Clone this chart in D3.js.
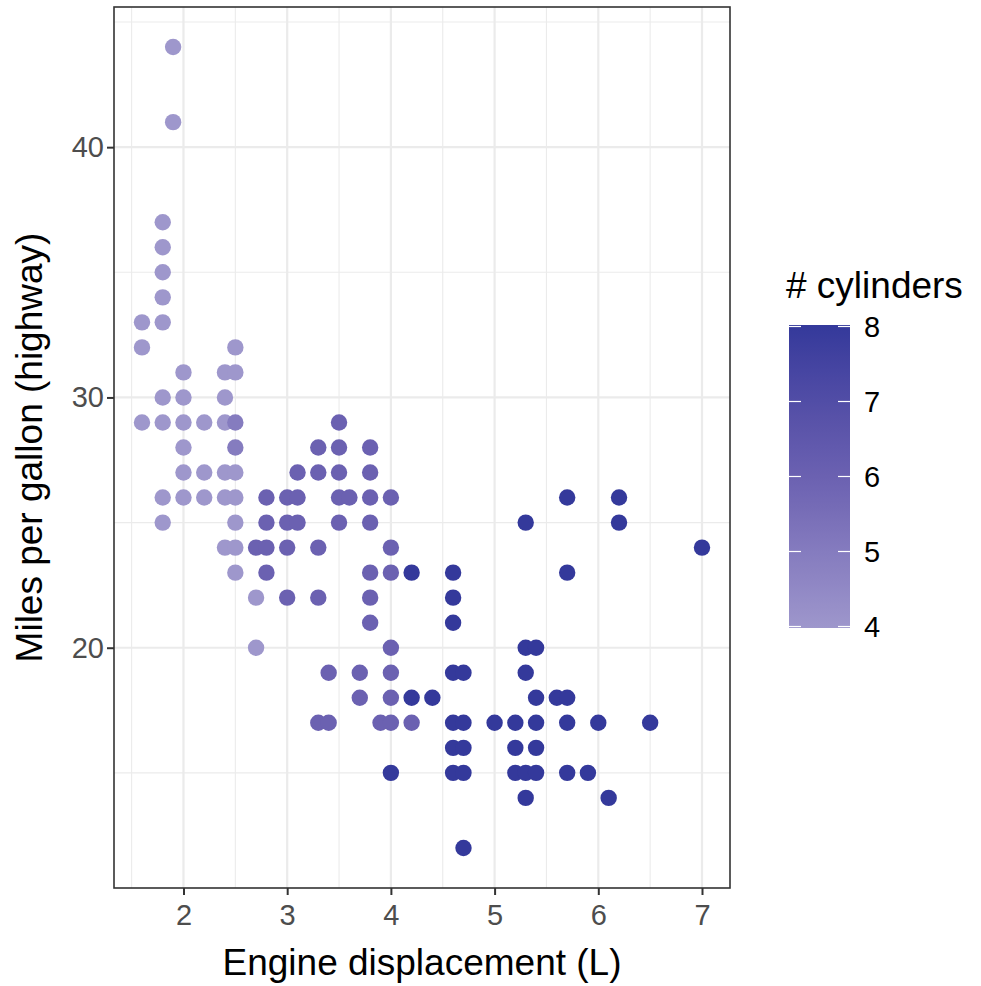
<!DOCTYPE html>
<html>
<head>
<meta charset="utf-8">
<script src="https://cdn.jsdelivr.net/npm/d3@7"></script>
<style>
  html, body { margin: 0; padding: 0; background: #fff; }
  svg { display: block; }
  text { font-family: "Liberation Sans", Arial, Helvetica, sans-serif; }
</style>
</head>
<body>
<svg id="chart" width="981" height="986"></svg>
<script>
// Engine displacement (L), highway mpg and cylinder count, one entry per distinct point
const displ = [
  1.6, 1.6, 1.6,
  1.8, 1.8, 1.8, 1.8, 1.8, 1.8, 1.8, 1.8, 1.8,
  1.9, 1.9,
  2.0, 2.0, 2.0, 2.0, 2.0, 2.0,
  2.2, 2.2, 2.2,
  2.4, 2.4, 2.4, 2.4, 2.4, 2.4,
  2.5, 2.5, 2.5, 2.5, 2.5, 2.5, 2.5,
  2.7, 2.7,
  2.5, 2.5,
  2.7,
  2.8, 2.8, 2.8, 2.8,
  3.0, 3.0, 3.0, 3.0,
  3.1, 3.1, 3.1,
  3.3, 3.3, 3.3, 3.3, 3.3,
  3.4, 3.4,
  3.5, 3.5, 3.5, 3.5, 3.5,
  3.6,
  3.7, 3.7,
  3.8, 3.8, 3.8, 3.8, 3.8, 3.8, 3.8,
  3.9,
  4.0, 4.0, 4.0, 4.0, 4.0, 4.0, 4.0,
  4.2,
  4.0,
  4.2, 4.2,
  4.4,
  4.6, 4.6, 4.6, 4.6, 4.6, 4.6, 4.6,
  4.7, 4.7, 4.7, 4.7, 4.7,
  5.0,
  5.2, 5.2, 5.2,
  5.3, 5.3, 5.3, 5.3, 5.3,
  5.4, 5.4, 5.4, 5.4, 5.4,
  5.6,
  5.7, 5.7, 5.7, 5.7, 5.7,
  5.9,
  6.0,
  6.1,
  6.2, 6.2,
  6.5,
  7.0
];
const hwy = [
  33, 32, 29,
  37, 36, 35, 34, 33, 30, 29, 26, 25,
  44, 41,
  31, 30, 29, 28, 27, 26,
  29, 27, 26,
  31, 30, 29, 27, 26, 24,
  32, 31, 27, 26, 25, 24, 23,
  22, 20,
  29, 28,
  24,
  26, 25, 24, 23,
  26, 25, 24, 22,
  27, 26, 25,
  28, 27, 24, 22, 17,
  19, 17,
  29, 28, 27, 26, 25,
  26,
  19, 18,
  28, 27, 26, 25, 23, 22, 21,
  17,
  26, 24, 23, 20, 19, 18, 17,
  17,
  15,
  23, 18,
  18,
  23, 22, 21, 19, 17, 16, 15,
  19, 17, 16, 15, 12,
  17,
  17, 16, 15,
  25, 20, 19, 15, 14,
  20, 18, 17, 16, 15,
  18,
  26, 23, 18, 17, 15,
  15,
  17,
  14,
  26, 25,
  17,
  24
];
const cyl = [
  4, 4, 4,
  4, 4, 4, 4, 4, 4, 4, 4, 4,
  4, 4,
  4, 4, 4, 4, 4, 4,
  4, 4, 4,
  4, 4, 4, 4, 4, 4,
  4, 4, 4, 4, 4, 4, 4,
  4, 4,
  5, 5,
  6,
  6, 6, 6, 6,
  6, 6, 6, 6,
  6, 6, 6,
  6, 6, 6, 6, 6,
  6, 6,
  6, 6, 6, 6, 6,
  6,
  6, 6,
  6, 6, 6, 6, 6, 6, 6,
  6,
  6, 6, 6, 6, 6, 6, 6,
  6,
  8,
  8, 8,
  8,
  8, 8, 8, 8, 8, 8, 8,
  8, 8, 8, 8, 8,
  8,
  8, 8, 8,
  8, 8, 8, 8, 8,
  8, 8, 8, 8, 8,
  8,
  8, 8, 8, 8, 8,
  8,
  8,
  8,
  8, 8,
  8,
  8
];

// Axis and legend tick values
const xTicks = [2, 3, 4, 5, 6, 7];
const xMinor = [1.5, 2.5, 3.5, 4.5, 5.5, 6.5];
const yTicks = [20, 30, 40];
const yMinor = [15, 25, 35, 45];
const legendTicks = [4, 5, 6, 7, 8];

const xTitle = "Engine displacement (L)";
const yTitle = "Miles per gallon (highway)";
const legendTitle = "# cylinders";

const points = displ.map((d, i) => ({ displ: d, hwy: hwy[i], cyl: cyl[i] }));

const svg = d3.select("#chart");
const panel = { left: 114, right: 730, top: 7, bottom: 888 };
const titleSize = "37px";
const tickSize = "29px";

// Continuous scales with the usual 5% padding around the data range
function padded(ext) {
  const pad = (ext[1] - ext[0]) * 0.05;
  return [ext[0] - pad, ext[1] + pad];
}
const x = d3.scaleLinear().domain(padded(d3.extent(displ))).range([panel.left, panel.right]);
const y = d3.scaleLinear().domain(padded(d3.extent(hwy))).range([panel.bottom, panel.top]);
const color = d3.scaleLinear()
  .domain([4, 6, 8])
  .range(["#9e97cc", "#6b61b1", "#34399b"])
  .interpolate(d3.interpolateLab);

// Panel grid
const grid = svg.append("g");
grid.selectAll("line.xminor").data(xMinor).join("line")
  .attr("x1", d => x(d)).attr("x2", d => x(d))
  .attr("y1", panel.top).attr("y2", panel.bottom)
  .attr("stroke", "#ebebeb").attr("stroke-width", 1.1);
grid.selectAll("line.yminor").data(yMinor).join("line")
  .attr("y1", d => y(d)).attr("y2", d => y(d))
  .attr("x1", panel.left).attr("x2", panel.right)
  .attr("stroke", "#ebebeb").attr("stroke-width", 1.1);
grid.selectAll("line.xmajor").data(xTicks).join("line")
  .attr("x1", d => x(d)).attr("x2", d => x(d))
  .attr("y1", panel.top).attr("y2", panel.bottom)
  .attr("stroke", "#ebebeb").attr("stroke-width", 2.2);
grid.selectAll("line.ymajor").data(yTicks).join("line")
  .attr("y1", d => y(d)).attr("y2", d => y(d))
  .attr("x1", panel.left).attr("x2", panel.right)
  .attr("stroke", "#ebebeb").attr("stroke-width", 2.2);

// Points
svg.append("g").selectAll("circle").data(points).join("circle")
  .attr("cx", d => x(d.displ))
  .attr("cy", d => y(d.hwy))
  .attr("r", 8.2)
  .attr("fill", d => color(d.cyl));

// Panel border
svg.append("rect")
  .attr("x", panel.left).attr("y", panel.top)
  .attr("width", panel.right - panel.left).attr("height", panel.bottom - panel.top)
  .attr("fill", "none").attr("stroke", "#333333").attr("stroke-width", 1.6);

// Axes
const xAxis = svg.append("g")
  .attr("transform", `translate(0,${panel.bottom})`)
  .call(d3.axisBottom(x).tickValues(xTicks).tickSize(7).tickPadding(9).tickFormat(d3.format("d")));
const yAxis = svg.append("g")
  .attr("transform", `translate(${panel.left},0)`)
  .call(d3.axisLeft(y).tickValues(yTicks).tickSize(7).tickPadding(3).tickFormat(d3.format("d")));
[xAxis, yAxis].forEach(ax => {
  ax.select(".domain").remove();
  ax.selectAll(".tick line").attr("stroke", "#333333").attr("stroke-width", 2);
  ax.selectAll(".tick text")
    .attr("fill", "#4d4d4d")
    .style("font-size", tickSize)
    .style("font-family", '"Liberation Sans", Arial, sans-serif');
});

// Axis titles
svg.append("text")
  .attr("x", (panel.left + panel.right) / 2).attr("y", 975)
  .attr("text-anchor", "middle")
  .style("font-size", titleSize)
  .attr("fill", "#000")
  .text(xTitle);
svg.append("text")
  .attr("transform", `translate(42,${(panel.top + panel.bottom) / 2}) rotate(-90)`)
  .attr("text-anchor", "middle")
  .style("font-size", titleSize)
  .attr("fill", "#000")
  .text(yTitle);

// Colour bar legend
const bar = { x: 789, w: 61, top: 325, bottom: 628 };
const ly = d3.scaleLinear().domain([4, 8]).range([bar.bottom - 1.5, bar.top + 1.5]);
const defs = svg.append("defs");
const grad = defs.append("linearGradient")
  .attr("id", "cylGradient")
  .attr("x1", 0).attr("y1", 1).attr("x2", 0).attr("y2", 0);
d3.range(0, 21).forEach(i => {
  const v = 4 + i * 0.2;
  grad.append("stop").attr("offset", `${i * 5}%`).attr("stop-color", color(v));
});
svg.append("rect")
  .attr("x", bar.x).attr("y", bar.top)
  .attr("width", bar.w).attr("height", bar.bottom - bar.top)
  .attr("fill", "url(#cylGradient)");
const lt = svg.append("g");
lt.selectAll("line.l").data(legendTicks).join("line")
  .attr("x1", bar.x).attr("x2", bar.x + 12)
  .attr("y1", d => ly(d)).attr("y2", d => ly(d))
  .attr("stroke", "#fff").attr("stroke-width", 1.2);
lt.selectAll("line.r").data(legendTicks).join("line")
  .attr("x1", bar.x + bar.w - 12).attr("x2", bar.x + bar.w)
  .attr("y1", d => ly(d)).attr("y2", d => ly(d))
  .attr("stroke", "#fff").attr("stroke-width", 1.2);
lt.selectAll("text").data(legendTicks).join("text")
  .attr("x", 864).attr("y", d => ly(d))
  .attr("dy", "0.36em")
  .style("font-size", tickSize)
  .attr("fill", "#000")
  .text(d => d);
svg.append("text")
  .attr("x", 786).attr("y", 298)
  .style("font-size", titleSize)
  .attr("fill", "#000")
  .text(legendTitle);
</script>
</body>
</html>
